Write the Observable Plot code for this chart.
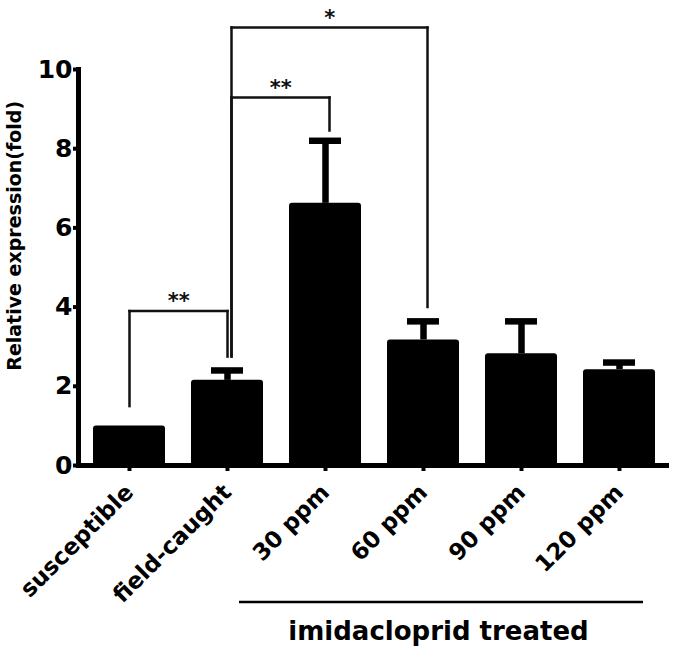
<!DOCTYPE html>
<html><head><meta charset="utf-8">
<script src="https://cdn.jsdelivr.net/npm/d3@7"></script>
<script src="https://cdn.jsdelivr.net/npm/@observablehq/plot@0.6"></script>
<style>body{margin:0;background:#fff}</style>
</head><body><div id="chart"></div>
<script>
// ---- data ----
const categories = ["susceptible", "field-caught", "30 ppm", "60 ppm", "90 ppm", "120 ppm"];
const means = [1.0, 2.15, 6.62, 3.17, 2.82, 2.42];
const upper = [1.0, 2.4, 8.2, 3.64, 3.64, 2.6]; // mean + error
const yTicks = [0, 2, 4, 6, 8, 10];
const bracketFrom = ["susceptible", "field-caught", "field-caught"];
const bracketTo = ["field-caught", "30 ppm", "60 ppm"];
const bracketTop = [3.9, 9.29, 11.06];
const bracketFromEnd = [1.5, 2.75, 2.75];
const bracketToEnd = [2.75, 8.46, 4.0];
const bracketLabel = ["**", "**", "*"];
const groupFrom = "30 ppm";
const groupTo = "120 ppm";
const groupLabel = "imidacloprid treated";
const yLabel = "Relative expression(fold)";

// ---- layout ----
const W = 675, H = 651, mL = 78, mR = 6, mT = 69, mB = 186;
const FONT = "'DejaVu Sans', Verdana, sans-serif";
const xOpts = {type: "band", domain: categories, paddingInner: 0.27, paddingOuter: 0.14};
const xs = Plot.scale({x: {...xOpts, range: [mL, W - mR]}});

const rows = categories.map((c, i) => ({cat: c, mean: means[i], upper: upper[i]}));
const errRows = rows.filter(d => d.upper > d.mean);
const brackets = bracketFrom.map((f, i) => ({
  from: f, to: bracketTo[i], top: bracketTop[i],
  fromEnd: bracketFromEnd[i], toEnd: bracketToEnd[i], label: bracketLabel[i]
}));
const legDx = [0, 4, 4];

const bracketMarks = brackets.flatMap((b, i) => {
  const half = (xs.apply(b.to) - xs.apply(b.from)) / 2;
  const common = {stroke: "#111", strokeWidth: 2.5, strokeLinecap: "square", dx: legDx[i]};
  return [
    Plot.link([b], {x1: "from", x2: "to", y1: "top", y2: "top", ...common}),
    Plot.link([b], {x1: "from", x2: "from", y1: "top", y2: "fromEnd", ...common}),
    Plot.link([b], {x1: "to", x2: "to", y1: "top", y2: "toEnd", ...common}),
    Plot.text([b], {x: "from", y: "top", text: "label", dx: half + legDx[i], dy: -3,
      lineAnchor: "bottom", fontSize: 21, fontWeight: "bold", fill: "#111"})
  ];
});

const chart = Plot.plot({
  width: W, height: H,
  marginLeft: mL, marginRight: mR, marginTop: mT, marginBottom: mB,
  style: {fontFamily: FONT, color: "#000", background: "#fff", overflow: "visible"},
  x: {...xOpts, label: null},
  y: {domain: [0, 10], label: null},
  marks: [
    Plot.barY(rows, {x: "cat", y: "mean", fill: "#000", rx: 3}),
    Plot.ruleX(errRows, {x: "cat", y1: "mean", y2: "upper", stroke: "#000", strokeWidth: 6.5}),
    Plot.tickY(errRows, {x: "cat", y: "upper", stroke: "#000", strokeWidth: 6.5, inset: 20}),
    ...bracketMarks,
    Plot.ruleY([0], {stroke: "#000", strokeWidth: 5}),
    Plot.frame({anchor: "left", stroke: "#000", strokeWidth: 5}),
    Plot.axisY(yTicks, {tickSize: 5, tickPadding: 1, fontSize: 25, fontWeight: "bold",
      strokeWidth: 4, label: null}),
    Plot.axisX({tickSize: 6, tickRotate: -45, fontSize: 23, fontWeight: "bold",
      strokeWidth: 4, label: null, tickPadding: 17}),
    Plot.text([yLabel], {frameAnchor: "left", y: () => 5.8, text: d => d, rotate: -90,
      textAnchor: "middle", dx: -64, fontSize: 19, fontWeight: "bold", fill: "#000"}),
    Plot.ruleY([groupLabel], {y: () => -3.45, x1: () => groupFrom, x2: () => groupTo,
      stroke: "#000", strokeWidth: 2.5, insetLeft: -50, insetRight: 12}),
    Plot.text([groupLabel], {x: () => groupFrom, y: () => -4.2, text: d => d, dx: 113,
      fontSize: 26, fontWeight: "bold", fill: "#000"})
  ]
});
document.getElementById("chart").appendChild(chart);
</script>
</body></html>
